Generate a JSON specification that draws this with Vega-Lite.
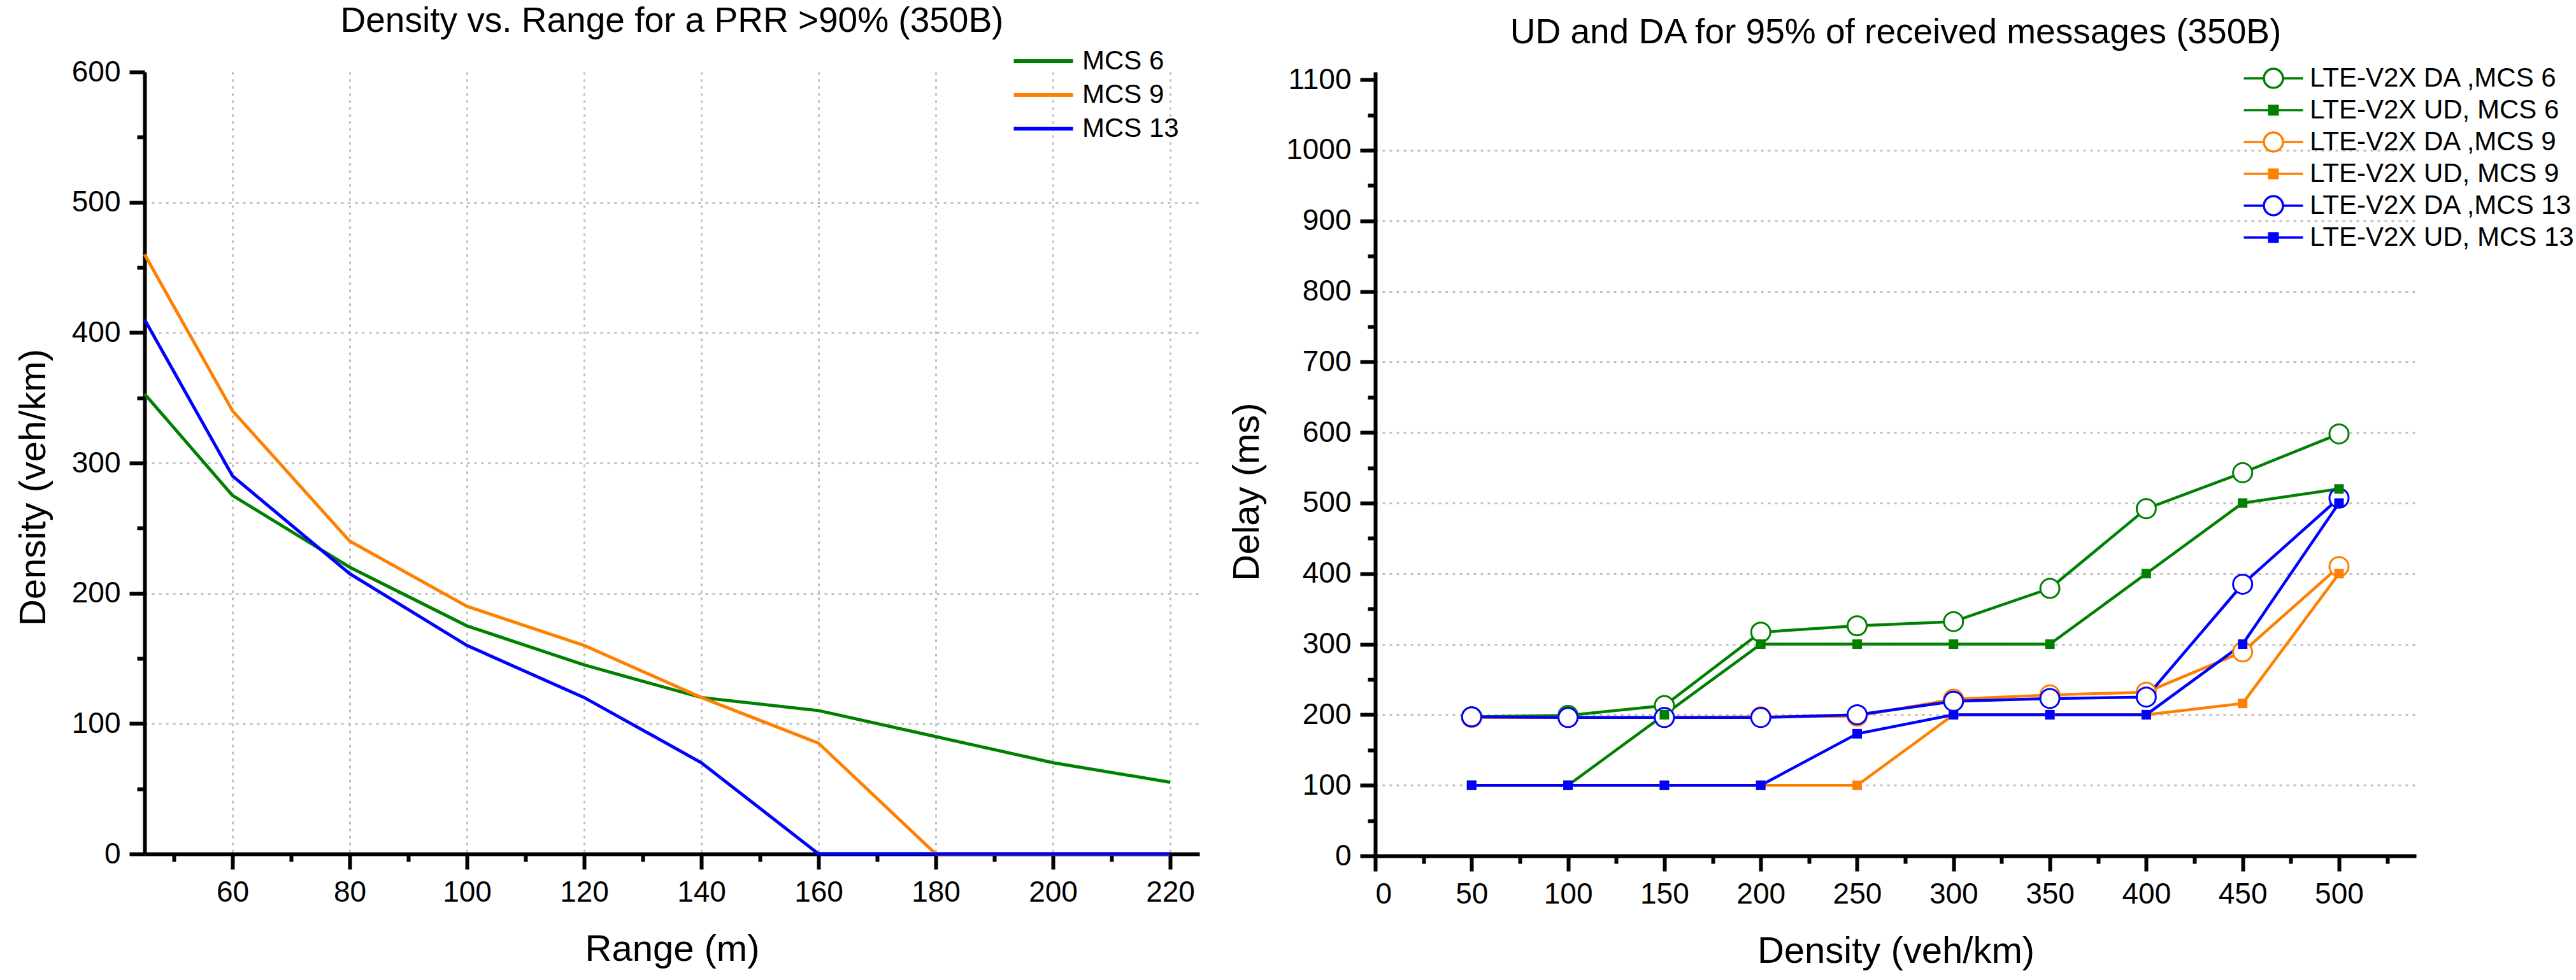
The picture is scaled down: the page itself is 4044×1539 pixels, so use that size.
{
  "$schema": "https://vega.github.io/schema/vega-lite/v6.json",
  "background": "white",
  "padding": {"left": 24, "top": 6, "right": 5, "bottom": 5},
  "spacing": 276,
  "bounds": "flush",
  "resolve": {"scale": {"color": "independent"}, "legend": {"color": "independent"}},
  "config": {
    "view": {"stroke": null},
    "font": "Liberation Sans",
    "title": {"fontSize": 55, "font": "Liberation Sans", "fontWeight": "normal", "anchor": "middle", "frame": "group", "baseline": "alphabetic", "color": "black"},
    "axis": {
      "domainColor": "black", "domainWidth": 6, "tickColor": "black", "tickWidth": 6, "tickSize": 24,
      "labelFont": "Liberation Sans", "labelFontSize": 46, "labelColor": "black", "labelPadding": 14, "format": "d",
      "titleFont": "Liberation Sans", "titleFontSize": 58, "titleFontWeight": "normal", "titleColor": "black",
      "gridColor": "#c0c0c0", "gridDash": [4, 7], "gridWidth": 3
    },
    "legend": {"labelFont": "Liberation Sans", "labelFontSize": 42, "labelColor": "black", "labelLimit": 2000}
  },
  "datasets": {
    "left": [
      {"series": "MCS 6", "range": 45, "density": 353},
      {"series": "MCS 6", "range": 60, "density": 275},
      {"series": "MCS 6", "range": 80, "density": 220},
      {"series": "MCS 6", "range": 100, "density": 175},
      {"series": "MCS 6", "range": 120, "density": 145},
      {"series": "MCS 6", "range": 140, "density": 120},
      {"series": "MCS 6", "range": 160, "density": 110},
      {"series": "MCS 6", "range": 180, "density": 90},
      {"series": "MCS 6", "range": 200, "density": 70},
      {"series": "MCS 6", "range": 220, "density": 55},
      {"series": "MCS 9", "range": 45, "density": 460},
      {"series": "MCS 9", "range": 60, "density": 340},
      {"series": "MCS 9", "range": 80, "density": 240},
      {"series": "MCS 9", "range": 100, "density": 190},
      {"series": "MCS 9", "range": 120, "density": 160},
      {"series": "MCS 9", "range": 140, "density": 120},
      {"series": "MCS 9", "range": 160, "density": 85},
      {"series": "MCS 9", "range": 180, "density": 0},
      {"series": "MCS 9", "range": 200, "density": 0},
      {"series": "MCS 9", "range": 220, "density": 0},
      {"series": "MCS 13", "range": 45, "density": 410},
      {"series": "MCS 13", "range": 60, "density": 290},
      {"series": "MCS 13", "range": 80, "density": 215},
      {"series": "MCS 13", "range": 100, "density": 160},
      {"series": "MCS 13", "range": 120, "density": 120},
      {"series": "MCS 13", "range": 140, "density": 70},
      {"series": "MCS 13", "range": 160, "density": 0},
      {"series": "MCS 13", "range": 180, "density": 0},
      {"series": "MCS 13", "range": 200, "density": 0},
      {"series": "MCS 13", "range": 220, "density": 0}
    ],
    "right": [
      {"series": "LTE-V2X DA ,MCS 6", "kind": "DA", "density": 50, "delay": 197},
      {"series": "LTE-V2X DA ,MCS 6", "kind": "DA", "density": 100, "delay": 199},
      {"series": "LTE-V2X DA ,MCS 6", "kind": "DA", "density": 150, "delay": 213},
      {"series": "LTE-V2X DA ,MCS 6", "kind": "DA", "density": 200, "delay": 317},
      {"series": "LTE-V2X DA ,MCS 6", "kind": "DA", "density": 250, "delay": 326},
      {"series": "LTE-V2X DA ,MCS 6", "kind": "DA", "density": 300, "delay": 332},
      {"series": "LTE-V2X DA ,MCS 6", "kind": "DA", "density": 350, "delay": 379},
      {"series": "LTE-V2X DA ,MCS 6", "kind": "DA", "density": 400, "delay": 492},
      {"series": "LTE-V2X DA ,MCS 6", "kind": "DA", "density": 450, "delay": 543},
      {"series": "LTE-V2X DA ,MCS 6", "kind": "DA", "density": 500, "delay": 598},
      {"series": "LTE-V2X UD, MCS 6", "kind": "UD", "density": 50, "delay": 100},
      {"series": "LTE-V2X UD, MCS 6", "kind": "UD", "density": 100, "delay": 100},
      {"series": "LTE-V2X UD, MCS 6", "kind": "UD", "density": 150, "delay": 200},
      {"series": "LTE-V2X UD, MCS 6", "kind": "UD", "density": 200, "delay": 300},
      {"series": "LTE-V2X UD, MCS 6", "kind": "UD", "density": 250, "delay": 300},
      {"series": "LTE-V2X UD, MCS 6", "kind": "UD", "density": 300, "delay": 300},
      {"series": "LTE-V2X UD, MCS 6", "kind": "UD", "density": 350, "delay": 300},
      {"series": "LTE-V2X UD, MCS 6", "kind": "UD", "density": 400, "delay": 400},
      {"series": "LTE-V2X UD, MCS 6", "kind": "UD", "density": 450, "delay": 500},
      {"series": "LTE-V2X UD, MCS 6", "kind": "UD", "density": 500, "delay": 520},
      {"series": "LTE-V2X DA ,MCS 9", "kind": "DA", "density": 50, "delay": 196},
      {"series": "LTE-V2X DA ,MCS 9", "kind": "DA", "density": 100, "delay": 196},
      {"series": "LTE-V2X DA ,MCS 9", "kind": "DA", "density": 150, "delay": 196},
      {"series": "LTE-V2X DA ,MCS 9", "kind": "DA", "density": 200, "delay": 197},
      {"series": "LTE-V2X DA ,MCS 9", "kind": "DA", "density": 250, "delay": 198},
      {"series": "LTE-V2X DA ,MCS 9", "kind": "DA", "density": 300, "delay": 222},
      {"series": "LTE-V2X DA ,MCS 9", "kind": "DA", "density": 350, "delay": 228},
      {"series": "LTE-V2X DA ,MCS 9", "kind": "DA", "density": 400, "delay": 232},
      {"series": "LTE-V2X DA ,MCS 9", "kind": "DA", "density": 450, "delay": 289},
      {"series": "LTE-V2X DA ,MCS 9", "kind": "DA", "density": 500, "delay": 410},
      {"series": "LTE-V2X UD, MCS 9", "kind": "UD", "density": 50, "delay": 100},
      {"series": "LTE-V2X UD, MCS 9", "kind": "UD", "density": 100, "delay": 100},
      {"series": "LTE-V2X UD, MCS 9", "kind": "UD", "density": 150, "delay": 100},
      {"series": "LTE-V2X UD, MCS 9", "kind": "UD", "density": 200, "delay": 100},
      {"series": "LTE-V2X UD, MCS 9", "kind": "UD", "density": 250, "delay": 100},
      {"series": "LTE-V2X UD, MCS 9", "kind": "UD", "density": 300, "delay": 200},
      {"series": "LTE-V2X UD, MCS 9", "kind": "UD", "density": 350, "delay": 200},
      {"series": "LTE-V2X UD, MCS 9", "kind": "UD", "density": 400, "delay": 200},
      {"series": "LTE-V2X UD, MCS 9", "kind": "UD", "density": 450, "delay": 216},
      {"series": "LTE-V2X UD, MCS 9", "kind": "UD", "density": 500, "delay": 400},
      {"series": "LTE-V2X DA ,MCS 13", "kind": "DA", "density": 50, "delay": 197},
      {"series": "LTE-V2X DA ,MCS 13", "kind": "DA", "density": 100, "delay": 196},
      {"series": "LTE-V2X DA ,MCS 13", "kind": "DA", "density": 150, "delay": 196},
      {"series": "LTE-V2X DA ,MCS 13", "kind": "DA", "density": 200, "delay": 196},
      {"series": "LTE-V2X DA ,MCS 13", "kind": "DA", "density": 250, "delay": 200},
      {"series": "LTE-V2X DA ,MCS 13", "kind": "DA", "density": 300, "delay": 219},
      {"series": "LTE-V2X DA ,MCS 13", "kind": "DA", "density": 350, "delay": 223},
      {"series": "LTE-V2X DA ,MCS 13", "kind": "DA", "density": 400, "delay": 225},
      {"series": "LTE-V2X DA ,MCS 13", "kind": "DA", "density": 450, "delay": 385},
      {"series": "LTE-V2X DA ,MCS 13", "kind": "DA", "density": 500, "delay": 507},
      {"series": "LTE-V2X UD, MCS 13", "kind": "UD", "density": 50, "delay": 100},
      {"series": "LTE-V2X UD, MCS 13", "kind": "UD", "density": 100, "delay": 100},
      {"series": "LTE-V2X UD, MCS 13", "kind": "UD", "density": 150, "delay": 100},
      {"series": "LTE-V2X UD, MCS 13", "kind": "UD", "density": 200, "delay": 100},
      {"series": "LTE-V2X UD, MCS 13", "kind": "UD", "density": 250, "delay": 173},
      {"series": "LTE-V2X UD, MCS 13", "kind": "UD", "density": 300, "delay": 200},
      {"series": "LTE-V2X UD, MCS 13", "kind": "UD", "density": 350, "delay": 200},
      {"series": "LTE-V2X UD, MCS 13", "kind": "UD", "density": 400, "delay": 200},
      {"series": "LTE-V2X UD, MCS 13", "kind": "UD", "density": 450, "delay": 300},
      {"series": "LTE-V2X UD, MCS 13", "kind": "UD", "density": 500, "delay": 500}
    ]
  },
  "hconcat": [
    {
      "width": 1656,
      "height": 1228,
      "title": {"text": "Density vs. Range for a PRR >90% (350B)", "offset": 13},
      "data": {"name": "left"},
      "resolve": {"axis": {"x": "independent", "y": "independent"}},
      "layer": [
        {
          "mark": {"type": "line", "strokeWidth": 5},
          "encoding": {
            "x": {"field": "range", "type": "quantitative", "scale": {"domain": [45, 225], "nice": false, "zero": false},
              "axis": {"orient": "bottom", "values": [60, 80, 100, 120, 140, 160, 180, 200, 220], "grid": true, "title": "Range (m)", "titleY": 167, "titleBaseline": "alphabetic"}},
            "y": {"field": "density", "type": "quantitative", "scale": {"domain": [0, 600], "nice": false},
              "axis": {"orient": "left", "values": [0, 100, 200, 300, 400, 500, 600], "grid": true,
                "gridOpacity": {"condition": {"test": "datum.value >= 600 || datum.value <= 0", "value": 0}, "value": 1},
                "title": "Density (veh/km)", "titleX": -157, "titleY": 652, "titleBaseline": "alphabetic", "titleAngle": -90}},
            "color": {"field": "series", "type": "nominal",
              "scale": {"domain": ["MCS 6", "MCS 9", "MCS 13"], "range": ["#008000", "#FF8000", "#0000FF"]},
              "legend": {"orient": "none", "legendX": 1390, "legendY": -38, "title": null, "symbolType": "M-3,0H3", "symbolSize": 961, "symbolStrokeWidth": 6, "labelOffset": 40, "rowPadding": 11, "padding": 0}}
          }
        },
        {
          "mark": {"type": "point", "opacity": 0},
          "encoding": {
            "x": {"field": "range", "type": "quantitative",
              "axis": {"orient": "bottom", "values": [50, 70, 90, 110, 130, 150, 170, 190, 210], "labels": false, "domain": false, "grid": false, "tickSize": 12, "title": null}},
            "y": {"field": "density", "type": "quantitative",
              "axis": {"orient": "left", "values": [50, 150, 250, 350, 450, 550], "labels": false, "domain": false, "grid": false, "tickSize": 12, "title": null}}
          }
        }
      ]
    },
    {
      "width": 1634,
      "height": 1231,
      "title": {"text": "UD and DA for 95% of received messages (350B)", "offset": 22},
      "data": {"name": "right"},
      "resolve": {"axis": {"x": "independent", "y": "independent"}},
      "layer": [
        {
          "mark": {"type": "line", "strokeWidth": 4.5},
          "encoding": {
            "x": {"field": "density", "type": "quantitative", "scale": {"domain": [0, 540], "nice": false},
              "axis": {"orient": "bottom", "values": [0, 50, 100, 150, 200, 250, 300, 350, 400, 450, 500], "grid": false, "title": "Density (veh/km)", "titleY": 167, "titleBaseline": "alphabetic"}},
            "y": {"field": "delay", "type": "quantitative", "scale": {"domain": [0, 1111], "nice": false},
              "axis": {"orient": "left", "values": [0, 100, 200, 300, 400, 500, 600, 700, 800, 900, 1000, 1100], "grid": true,
                "gridOpacity": {"condition": {"test": "datum.value >= 1050 || datum.value <= 0", "value": 0}, "value": 1},
                "title": "Delay (ms)", "titleX": -184, "titleY": 659, "titleBaseline": "alphabetic", "titleAngle": -90}},
            "color": {"field": "series", "type": "nominal",
              "scale": {"domain": ["LTE-V2X DA ,MCS 6", "LTE-V2X UD, MCS 6", "LTE-V2X DA ,MCS 9", "LTE-V2X UD, MCS 9", "LTE-V2X DA ,MCS 13", "LTE-V2X UD, MCS 13"],
                "range": ["#008000", "#008000", "#FF8000", "#FF8000", "#0000FF", "#0000FF"]},
              "legend": {"orient": "none", "legendX": 1389, "legendY": -11, "title": null, "symbolSize": 900, "symbolStrokeWidth": 3.5, "labelOffset": 36, "rowPadding": 7, "padding": 0,
                "encode": {"symbols": {"update": {
                  "shape": {"signal": "indexof(datum.value, 'DA') >= 0 ? 'M-3.1,0H-1M1,0H3.1M-1,0A1,1 0 1,1 1,0A1,1 0 1,1 -1,0Z' : 'M-3.1,0H3.1M-0.45,-0.45H0.45V0.45H-0.45Z'"},
                  "fill": {"signal": "indexof(datum.value, 'DA') >= 0 ? 'white' : (indexof(datum.value, 'MCS 6') >= 0 ? '#008000' : (indexof(datum.value, 'MCS 9') >= 0 ? '#FF8000' : '#0000FF'))"},
                  "opacity": {"value": 1},
                  "fillOpacity": {"value": 1},
                  "strokeOpacity": {"value": 1}
                }}}}}
          }
        },
        {
          "transform": [{"filter": "datum.kind == 'DA'"}],
          "mark": {"type": "point", "shape": "circle", "size": 900, "filled": false, "fill": "white", "strokeWidth": 3, "opacity": 1},
          "encoding": {
            "x": {"field": "density", "type": "quantitative",
              "axis": {"orient": "bottom", "values": [25, 75, 125, 175, 225, 275, 325, 375, 425, 475, 525], "labels": false, "domain": false, "grid": false, "tickSize": 12, "title": null}},
            "y": {"field": "delay", "type": "quantitative",
              "axis": {"orient": "left", "values": [50, 150, 250, 350, 450, 550, 650, 750, 850, 950, 1050], "labels": false, "domain": false, "grid": false, "tickSize": 12, "title": null}},
            "color": {"field": "series", "type": "nominal"}
          }
        },
        {
          "transform": [{"filter": "datum.kind == 'UD'"}],
          "mark": {"type": "point", "shape": "square", "size": 56, "filled": false, "strokeWidth": 7.5, "opacity": 1},
          "encoding": {
            "x": {"field": "density", "type": "quantitative", "axis": null},
            "y": {"field": "delay", "type": "quantitative", "axis": null},
            "color": {"field": "series", "type": "nominal"}
          }
        }
      ]
    }
  ]
}
